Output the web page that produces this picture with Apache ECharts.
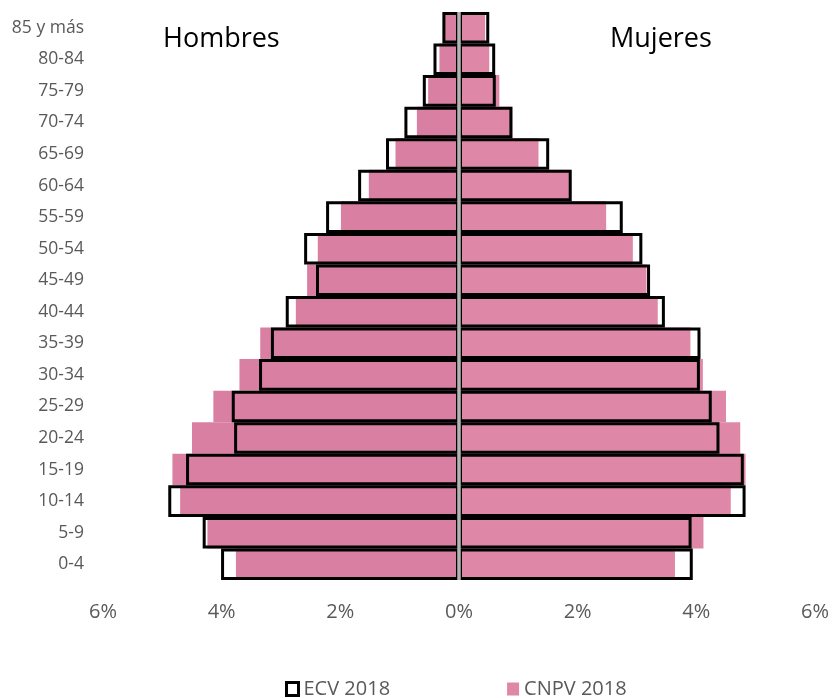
<!DOCTYPE html>
<html>
<head>
<meta charset="utf-8">
<script src="https://cdn.jsdelivr.net/npm/echarts@6/dist/echarts.min.js"></script>
<style>
html,body{margin:0;padding:0;background:#fff;}
#chart{width:834px;height:698px;}
</style>
</head>
<body>
<div id="chart"></div>
<script>
// Age groups, bottom to top
const categories = ['0-4','5-9','10-14','15-19','20-24','25-29','30-34','35-39','40-44','45-49','50-54','55-59','60-64','65-69','70-74','75-79','80-84','85 y más'];
// Percent of population
const ecvHombres  = [4.01,4.32,4.90,4.60,3.79,3.83,3.37,3.17,2.92,2.41,2.61,2.24,1.70,1.23,0.92,0.61,0.43,0.28];
const ecvMujeres  = [3.94,3.92,4.83,4.80,4.39,4.26,4.06,4.07,3.47,3.22,3.09,2.76,1.90,1.52,0.90,0.62,0.61,0.51];
const cnpvHombres = [3.76,4.24,4.70,4.83,4.50,4.14,3.70,3.35,2.75,2.56,2.38,1.99,1.52,1.07,0.71,0.52,0.33,0.26];
const cnpvMujeres = [3.64,4.12,4.58,4.83,4.74,4.50,4.11,3.90,3.35,3.16,2.93,2.48,1.88,1.34,0.90,0.68,0.51,0.44];
const xMin = -6, xMax = 6, xStep = 2;
const seriesNames = ['ECV 2018', 'CNPV 2018'];
const sideTitles = ['Hombres', 'Mujeres'];

const FONT = '"Open Sans", "Noto Sans", sans-serif';
const chart = echarts.init(document.getElementById('chart'), null, {renderer: 'canvas'});

const pinkL = '#d980a2', pinkR = '#df87a6';
const ecvStyle = {color: 'rgba(0,0,0,0)', borderColor: '#000', borderWidth: 3};

const option = {
  animation: false,
  grid: {left: 103, right: 19, top: 12, bottom: 118, containLabel: false},
  xAxis: {
    type: 'value', min: xMin, max: xMax, interval: xStep,
    axisLine: {show: false}, axisTick: {show: false}, splitLine: {show: false},
    axisLabel: {
      color: '#595959', fontFamily: FONT, fontSize: 20, margin: 22,
      formatter: v => Math.abs(v) + '%'
    }
  },
  yAxis: {
    type: 'category', data: categories,
    axisLine: {show: false}, axisTick: {show: false}, splitLine: {show: false},
    axisLabel: {color: '#595959', fontFamily: FONT, fontSize: 17.5, margin: 19}
  },
  legend: {
    data: [
      {name: seriesNames[0], itemStyle: {color: 'rgba(0,0,0,0)', borderColor: '#000', borderWidth: 3}},
      {name: seriesNames[1], itemStyle: {color: pinkR, borderWidth: 0}}
    ],
    left: 280, top: 674, itemGap: 117, itemWidth: 12, itemHeight: 13,
    icon: 'rect', selectedMode: false,
    textStyle: {color: '#595959', fontFamily: FONT, fontSize: 20}
  },
  graphic: [
    {type: 'text', left: 163, top: 26, style: {text: sideTitles[0], fill: '#000', font: '27px ' + FONT}},
    {type: 'text', left: 610, top: 26, style: {text: sideTitles[1], fill: '#000', font: '27px ' + FONT}}
  ],
  series: [
    {
      name: seriesNames[1], type: 'bar', data: cnpvHombres.map(v => -v),
      barCategoryGap: '0%', barGap: '-100%', z: 2,
      itemStyle: {color: pinkL}, emphasis: {disabled: true}, silent: true
    },
    {
      name: seriesNames[1], type: 'bar', data: cnpvMujeres,
      barCategoryGap: '0%', barGap: '-100%', z: 2,
      itemStyle: {color: pinkR}, emphasis: {disabled: true}, silent: true
    },
    {
      name: seriesNames[0], type: 'bar', data: ecvHombres.map(v => -v),
      barCategoryGap: '0%', barGap: '-100%', z: 3,
      itemStyle: ecvStyle, emphasis: {disabled: true}, silent: true
    },
    {
      name: seriesNames[0], type: 'bar', data: ecvMujeres,
      barCategoryGap: '0%', barGap: '-100%', z: 3,
      itemStyle: ecvStyle, emphasis: {disabled: true}, silent: true,
      markLine: {
        silent: true, symbol: 'none', z: 20,
        label: {show: false},
        lineStyle: {color: '#b3b3b3', width: 3.5, type: 'solid'},
        emphasis: {disabled: true},
        data: [{xAxis: 0}]
      }
    }
  ]
};
chart.setOption(option);
</script>
</body>
</html>
